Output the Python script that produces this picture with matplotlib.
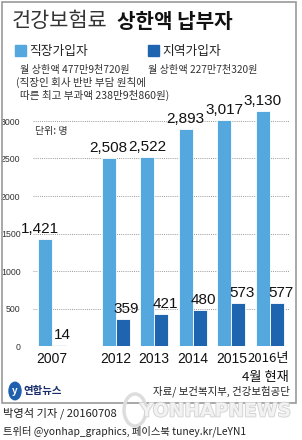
import matplotlib.pyplot as plt
import matplotlib.patheffects as pe
from matplotlib.patches import Rectangle, Circle

plt.rcParams['font.family'] = ['Noto Sans CJK KR', 'DejaVu Sans']

years = ['2007', '2012', '2013', '2014', '2015', '2016년']
employed = [1421, 2508, 2522, 2893, 3017, 3130]
regional = [14, 359, 421, 480, 573, 577]
employed_labels = ['1,421', '2,508', '2,522', '2,893', '3,017', '3,130']
regional_labels = ['14', '359', '421', '480', '573', '577']
yticks = [0, 500, 1000, 1500, 2000, 2500, 3000]

LIGHT = '#55a8de'
DARK = '#1f64ae'
NUM_FONT = ['Liberation Sans Narrow', 'Liberation Sans', 'DejaVu Sans']

W, H = 302, 440
fig = plt.figure(figsize=(W / 100, H / 100), dpi=100)


def fx(px):
    return px / W


def fy(py):
    return 1 - py / H


# outer frame
fig.patches.append(Rectangle((fx(2), fy(403)), fx(294), (403 - 2) / H,
                             transform=fig.transFigure, fill=False, ec='#9a9a9a', lw=1.2))

# axes
xpos = [0, 1.65, 2.65, 3.65, 4.65, 5.65]
bw = 0.363
ax = fig.add_axes([fx(33), fy(346), fx(257), (346 - 98.5) / H])
ax.set_xlim(-0.49, 6.17)
ax.set_ylim(0, 3300)
for s in ax.spines.values():
    s.set_visible(False)
ax.set_xticks([])
ax.set_yticks(yticks)
ax.set_yticklabels([str(t) for t in yticks], family=NUM_FONT, fontsize=6.3, color='#333333')
ax.tick_params(axis='y', length=0, pad=9)
for t in yticks:
    ax.axhline(t, color='#9a9a9a', lw=0.7, ls=(0, (1, 1.2)), zorder=0)

ax.bar([x - bw / 2 for x in xpos], employed, width=bw, color=LIGHT, ec='white', lw=0.6, zorder=2)
ax.bar([x + bw / 2 for x in xpos], regional, width=bw, color=DARK, ec='white', lw=0.6, zorder=2)

for i, x in enumerate(xpos):
    dx = -0.12 if i == 0 else 0
    ax.text(x - bw / 2 + dx, employed[i] + 40, employed_labels[i], ha='center', va='bottom',
            family=NUM_FONT, fontsize=11, color='#111111')
    ax.text(x + bw / 2 + 0.1, regional[i] + 40, regional_labels[i], ha='center', va='bottom',
            family=NUM_FONT, fontsize=11, color='#111111')
    if i < 5:
        ax.text(x, -80, years[i], ha='center', va='top', family=NUM_FONT, fontsize=10, color='#111111')
ax.text(xpos[-1] + 0.5, -80, years[-1], ha='right', va='top', fontsize=9.5, color='#111111')
ax.text(xpos[-1] + 0.5, -330, '4월 현재', ha='right', va='top', fontsize=9.5, color='#111111')
ax.text(-0.44, 2870, '단위: 명', fontsize=7.2, color='#333333', style='italic', va='center')

# title
fig.text(fx(12), fy(21), '건강보험료', fontsize=15, fontweight='light', color='#333333', va='center')
fig.text(fx(117), fy(21), '상한액 납부자', fontsize=14.5, fontweight='bold', color='#111111', va='center')

# legend
fig.patches.append(Rectangle((fx(15), fy(56)), fx(11), 11 / H, transform=fig.transFigure, color=LIGHT))
fig.text(fx(29), fy(51), '직장가입자', fontsize=9.2, color='#222222', va='center')
fig.patches.append(Rectangle((fx(148), fy(56)), fx(11), 11 / H, transform=fig.transFigure, color=DARK))
fig.text(fx(162), fy(51), '지역가입자', fontsize=9.2, color='#222222', va='center')

fig.text(fx(20), fy(70), '월 상한액 477만9천720원', fontsize=7.3, color='#333333', va='center')
fig.text(fx(148), fy(70), '월 상한액 227만7천320원', fontsize=7.3, color='#333333', va='center')
fig.text(fx(16), fy(82), '(직장인 회사 반반 부담 원칙에', fontsize=7.6, color='#333333', va='center')
fig.text(fx(20), fy(95), '따른 최고 부과액 238만9천860원)', fontsize=7.6, color='#333333', va='center')

# footer
fig.patches.append(Circle((fx(15), fy(391)), 6 / W, transform=fig.transFigure, color='#1f5fae'))
fig.text(fx(15), fy(391), 'y', fontsize=7, fontweight='bold', color='white', ha='center', va='center',
         style='italic')
fig.text(fx(23), fy(391), '연합뉴스', fontsize=7.5, fontweight='bold', color='#1a2d6b', va='center')
fig.text(fx(290), fy(391), '자료/ 보건복지부, 건강보험공단', fontsize=7.5, color='#222222',
         ha='right', va='center')
fig.patches.append(Circle((fx(135), fy(410)), 11 / W, transform=fig.transFigure,
                          fill=False, ec='#dddddd', lw=2.5))
fig.text(fx(291), fy(411), 'YONHAPNEWS', fontsize=13.5, fontweight='bold', color='#f2f2f2',
         ha='right', va='center', family=['DejaVu Sans'],
         path_effects=[pe.withStroke(linewidth=1.2, foreground='#d0d0d0')])
fig.text(fx(3), fy(413), '박영석 기자 / 20160708', fontsize=8.1, color='#222222', va='center')
fig.text(fx(3), fy(431), '트위터 @yonhap_graphics, 페이스북 tuney.kr/LeYN1', fontsize=7.4,
         color='#222222', va='center')

fig.savefig('out.png', dpi=100)
